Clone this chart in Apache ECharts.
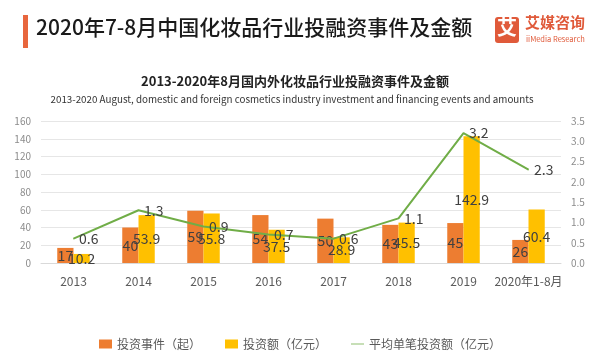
<!DOCTYPE html>
<html><head><meta charset="utf-8">
<script src="https://cdn.jsdelivr.net/npm/echarts@6/dist/echarts.min.js"></script>
<style>html,body{margin:0;padding:0;background:#fff}#c{width:600px;height:361px}</style>
</head><body><div id="c"></div>
<script>
const categories = ['2013','2014','2015','2016','2017','2018','2019','2020年1-8月'];
const events = [17,40,59,54,50,43,45,26];
const amounts = [10.2,53.9,55.8,37.5,28.9,45.5,142.9,60.4];
const avgAmount = [0.6,1.3,0.9,0.7,0.6,1.1,3.2,2.3];
const leftTicks = {min:0,max:160,interval:20};
const rightTicks = {min:0,max:3.5,interval:0.5};

const FONT = '"Noto Sans CJK SC","Noto Sans",sans-serif';
const chart = echarts.init(document.getElementById('c'));
const lbl = {show:true,position:'inside',color:'#404040',fontSize:14,fontFamily:FONT};
chart.setOption({
  animation:false,
  textStyle:{fontFamily:FONT},
  graphic:[
    {type:'rect',shape:{x:23,y:15,width:5,height:33},style:{fill:'#E8663D'}},
    {type:'text',left:36,top:17,style:{text:'2020年7-8月中国化妆品行业投融资事件及金额',font:'500 21px '+FONT,fill:'#1a1a1a'}},
    {type:'rect',shape:{x:495,y:17,width:24,height:26,r:3},style:{fill:'#E05A3A'}},
    {type:'text',left:497,top:17,style:{text:'艾',font:'bold 20px '+FONT,fill:'#fff'}},
    {type:'text',left:525,top:15,style:{text:'艾媒咨询',font:'bold 15px '+FONT,fill:'#E05A3A'}},
    {type:'text',left:526,top:35,style:{text:'iiMedia Research',font:'7.5px '+FONT,fill:'#E05A3A'}},
    {type:'text',x:295,y:81,style:{text:'2013-2020年8月国内外化妆品行业投融资事件及金额',font:'bold 13px '+FONT,fill:'#222',align:'center',verticalAlign:'middle'}},
    {type:'text',x:292,y:99,style:{text:'2013-2020 August, domestic and foreign cosmetics industry investment and financing events and amounts',font:'9.8px '+FONT,fill:'#333',align:'center',verticalAlign:'middle'}}
  ],
  grid:{left:41,right:39,top:121,bottom:98},
  legend:{bottom:6,left:'center',itemGap:24,itemWidth:13,itemHeight:9,
    textStyle:{color:'#595959',fontSize:12,fontFamily:FONT},
    data:[{name:'投资事件（起）',icon:'rect'},{name:'投资额（亿元）',icon:'rect'},{name:'平均单笔投资额（亿元）',icon:'path://M0,5 L20,5 L20,6.2 L0,6.2 Z'}]},
  xAxis:{type:'category',data:categories,
    axisLine:{lineStyle:{color:'#d9d9d9'}},axisTick:{show:false},
    axisLabel:{color:'#595959',fontSize:12,margin:12,interval:0}},
  yAxis:[
    {type:'value',min:leftTicks.min,max:leftTicks.max,interval:leftTicks.interval,
     axisLabel:{color:'#8c8c8c',fontSize:10,margin:10},
     splitLine:{lineStyle:{color:'#e6e6e6'}},axisLine:{show:false},axisTick:{show:false}},
    {type:'value',min:rightTicks.min,max:rightTicks.max,interval:rightTicks.interval,
     axisLabel:{color:'#8c8c8c',fontSize:10,margin:10,formatter:v=>v.toFixed(1)},
     splitLine:{show:false},axisLine:{show:false},axisTick:{show:false}}
  ],
  series:[
    {name:'投资事件（起）',type:'bar',data:events,barGap:'0%',barCategoryGap:'50%',
     itemStyle:{color:'#ED7D31'},label:lbl},
    {name:'投资额（亿元）',type:'bar',data:amounts,
     itemStyle:{color:'#FFC000'},label:lbl},
    {name:'平均单笔投资额（亿元）',type:'line',yAxisIndex:1,data:avgAmount,
     symbol:'circle',symbolSize:1,showSymbol:true,lineStyle:{color:'#70AD47',width:2},itemStyle:{color:'#70AD47'},
     label:{show:true,position:'right',distance:5,color:'#404040',fontSize:14,fontFamily:FONT}}
  ]
});
</script></body></html>
